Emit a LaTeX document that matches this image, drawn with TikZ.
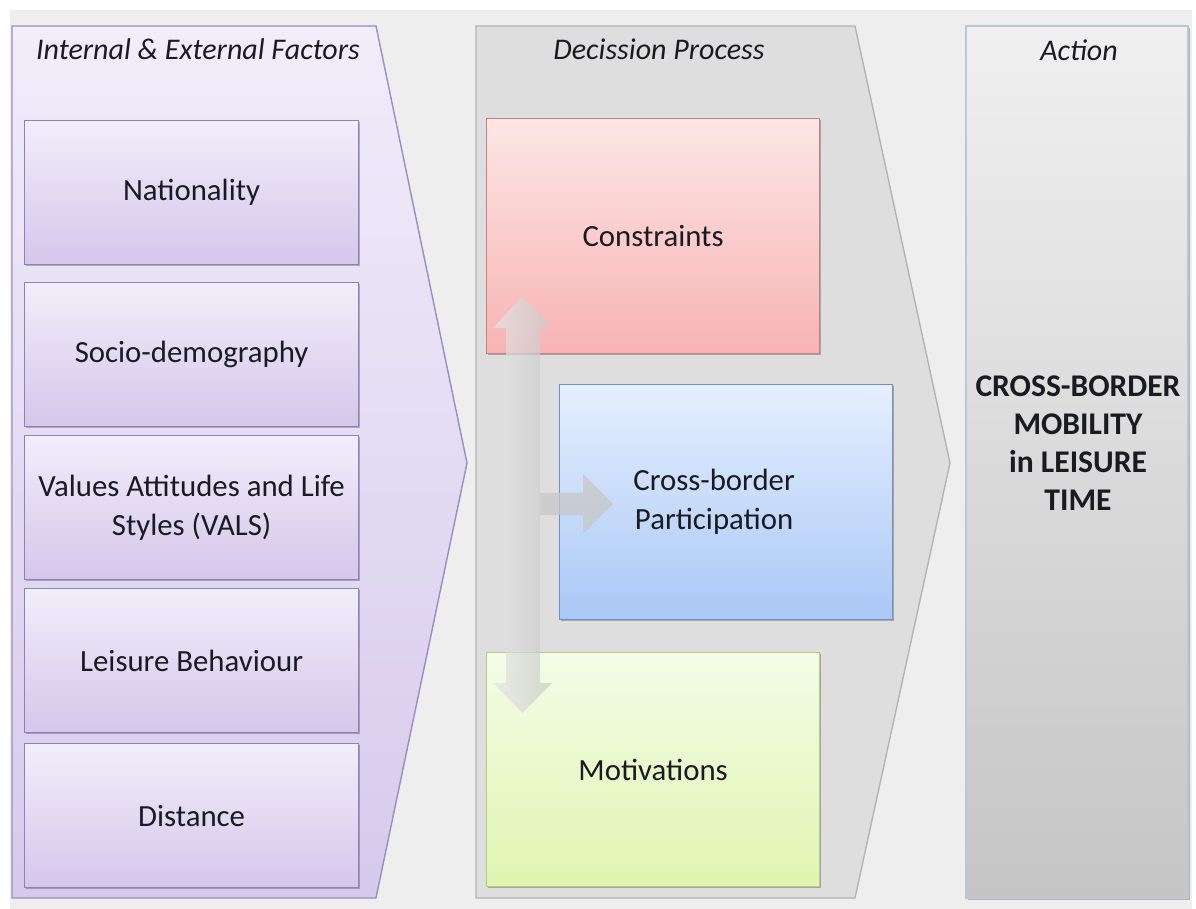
\documentclass[tikz,border=0pt]{standalone}
\usepackage{fontspec}
\setmainfont{Carlito}
\usetikzlibrary{shadows}

\definecolor{bgGray}{HTML}{EEEEEE}
\definecolor{facTop}{HTML}{F1EDFA}
\definecolor{facBot}{HTML}{D6CAEC}
\definecolor{facLine}{HTML}{9A8CC6}
\definecolor{boxTop}{HTML}{F2EEFA}
\definecolor{boxBot}{HTML}{D5C6EB}
\definecolor{boxLine}{HTML}{8E80B8}
\definecolor{decFill}{HTML}{DEDEDE}
\definecolor{decLine}{HTML}{B4B4B4}
\definecolor{conTop}{HTML}{FDE6E6}
\definecolor{conBot}{HTML}{F8B3B3}
\definecolor{conLine}{HTML}{C98080}
\definecolor{parTop}{HTML}{E6EFFD}
\definecolor{parBot}{HTML}{A9C8F7}
\definecolor{parLine}{HTML}{7090C0}
\definecolor{motTop}{HTML}{F3FCE8}
\definecolor{motBot}{HTML}{E0F5B0}
\definecolor{motLine}{HTML}{B6CC82}
\definecolor{actTop}{HTML}{F0F0F0}
\definecolor{actBot}{HTML}{C5C5C5}
\definecolor{actLine}{HTML}{BCC6D8}
\definecolor{txt}{HTML}{1A1A22}
\definecolor{arrLight}{HTML}{E6E6E6}
\definecolor{arrDark}{HTML}{C8C8C8}

\tikzset{
  basetext/.style={text=txt, font=\fontsize{15.4}{19.5}\selectfont, align=center},
  paneltitle/.style={basetext, font=\fontsize{15}{19}\selectfont\itshape},
  softshadow/.style={drop shadow={shadow xshift=0.8pt, shadow yshift=-0.9pt, opacity=0.25, fill=black}},
  factorbox/.style={basetext, rectangle, draw=boxLine, line width=0.6pt,
    top color=boxTop, bottom color=boxBot, minimum width=167pt, minimum height=72pt,
    anchor=north west, softshadow},
  decbox/.style={basetext, rectangle, line width=0.6pt,
    minimum width=166.5pt, minimum height=117.5pt, anchor=north west, softshadow},
  blockarrow/.style={left color=arrLight, right color=arrDark, fill opacity=0.7, draw=none}
}

\begin{document}
\begin{tikzpicture}[x=0.5pt, y=-0.5pt]
\useasboundingbox (0,0) rectangle (1196,909);
\fill[white] (0,0) rectangle (1196,909);
\fill[bgGray] (10,10) rectangle (1192,909);

% first chevron: internal and external factors
\draw[draw=facLine, line width=0.7pt, top color=facTop, bottom color=facBot]
  (12,26) -- (376,26) -- (467,463) -- (376,898) -- (12,898) -- cycle;
\node[paneltitle] (tfac) at (198,49) {Internal \& External Factors};

\node[factorbox] (nat) at (24,120) {Nationality};
\node[factorbox] (soc) at (24,282) {Socio-demography};
\node[factorbox] (vals) at (24,435) {Values Attitudes and Life\\Styles (VALS)};
\node[factorbox] (leis) at (24,588) {Leisure Behaviour};
\node[factorbox] (dist) at (24,743) {Distance};

% second chevron: decision process
\draw[draw=decLine, line width=0.7pt, fill=decFill]
  (476,26) -- (855,26) -- (950,463) -- (855,898) -- (476,898) -- cycle;
\node[paneltitle] (tdec) at (659,49) {Decission Process};

\node[decbox, draw=conLine, top color=conTop, bottom color=conBot] (con) at (486,118) {Constraints};
\node[decbox, draw=parLine, top color=parTop, bottom color=parBot, text width=150pt] (par) at (559,384) {\hspace*{-12pt}Cross-border\\\hspace*{-12pt}Participation};
\node[decbox, draw=motLine, top color=motTop, bottom color=motBot, minimum height=117pt] (mot) at (486,652) {Motivations};

% block arrows between the decision factors
\path[blockarrow]
  (522.5,296) -- (552,328) -- (540,328) -- (540,683) -- (552,683) -- (522.5,713)
  -- (493,683) -- (506,683) -- (506,328) -- (493,328) -- cycle;
\path[fill=arrDark, fill opacity=0.75]
  (540,493) -- (583,493) -- (583,474) -- (613,504) -- (583,534) -- (583,515)
  -- (540,515) -- cycle;

% third panel: action
\draw[draw=actLine, line width=0.7pt, top color=actTop, bottom color=actBot, softshadow]
  (966,26) rectangle (1188,898);
\node[paneltitle] (tact) at (1079,50) {Action};
\node[basetext, font=\fontsize{15.8}{19}\selectfont\bfseries] (mob) at (1078,443)
  {CROSS-BORDER\\MOBILITY\\in LEISURE\\TIME};
\end{tikzpicture}
\end{document}
